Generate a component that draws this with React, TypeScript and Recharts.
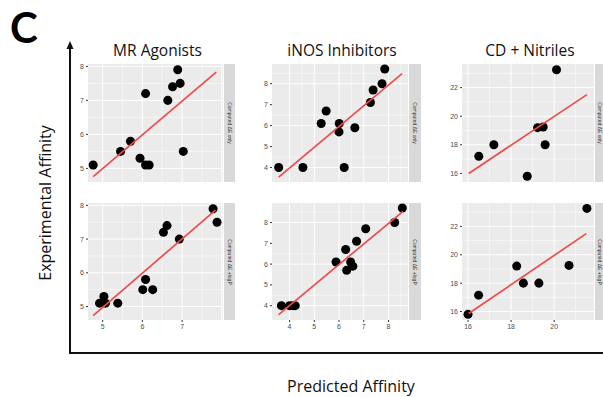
import { ScatterChart, Scatter, XAxis, YAxis, ZAxis, CartesianGrid } from "recharts";

type Pt = { x: number; y: number };

// MR Agonists
const mrTopPts: Pt[] = [
  { x: 4.76, y: 5.1 }, { x: 5.45, y: 5.5 }, { x: 5.7, y: 5.8 }, { x: 5.94, y: 5.3 },
  { x: 6.08, y: 5.1 }, { x: 6.17, y: 5.1 }, { x: 6.08, y: 7.2 }, { x: 6.64, y: 7.0 },
  { x: 6.76, y: 7.4 }, { x: 6.89, y: 7.9 }, { x: 6.95, y: 7.5 }, { x: 7.03, y: 5.5 },
];
const mrBotPts: Pt[] = [
  { x: 4.92, y: 5.1 }, { x: 5.03, y: 5.3 }, { x: 5.07, y: 5.1 }, { x: 5.38, y: 5.1 },
  { x: 6.01, y: 5.5 }, { x: 6.08, y: 5.8 }, { x: 6.26, y: 5.5 }, { x: 6.53, y: 7.2 },
  { x: 6.62, y: 7.4 }, { x: 6.93, y: 7.0 }, { x: 7.78, y: 7.9 }, { x: 7.88, y: 7.5 },
];
const mrTopLine: Pt[] = [{ x: 4.76, y: 4.76 }, { x: 7.86, y: 7.83 }];
const mrBotLine: Pt[] = [{ x: 4.76, y: 4.73 }, { x: 7.84, y: 7.86 }];

// iNOS Inhibitors
const inosTopPts: Pt[] = [
  { x: 3.56, y: 4.0 }, { x: 4.54, y: 4.0 }, { x: 5.28, y: 6.1 }, { x: 5.48, y: 6.7 },
  { x: 6.01, y: 6.1 }, { x: 6.0, y: 5.7 }, { x: 6.21, y: 4.0 }, { x: 6.64, y: 5.9 },
  { x: 7.27, y: 7.1 }, { x: 7.38, y: 7.7 }, { x: 7.74, y: 8.0 }, { x: 7.85, y: 8.7 },
];
const inosBotPts: Pt[] = [
  { x: 3.67, y: 4.0 }, { x: 4.0, y: 4.0 }, { x: 4.13, y: 4.0 }, { x: 4.23, y: 4.0 },
  { x: 5.88, y: 6.1 }, { x: 6.27, y: 6.7 }, { x: 6.31, y: 5.7 }, { x: 6.47, y: 6.1 },
  { x: 6.56, y: 5.9 }, { x: 6.71, y: 7.1 }, { x: 7.08, y: 7.7 }, { x: 8.25, y: 8.0 },
  { x: 8.56, y: 8.7 },
];
const inosTopLine: Pt[] = [{ x: 3.56, y: 3.54 }, { x: 8.55, y: 8.48 }];
const inosBotLine: Pt[] = [{ x: 3.56, y: 3.57 }, { x: 8.59, y: 8.54 }];

// CD + Nitriles
const cdTopPts: Pt[] = [
  { x: 16.5, y: 17.2 }, { x: 17.2, y: 18.0 }, { x: 18.75, y: 15.8 }, { x: 19.23, y: 19.2 },
  { x: 19.49, y: 19.25 }, { x: 19.58, y: 18.0 }, { x: 20.11, y: 23.25 },
];
const cdBotPts: Pt[] = [
  { x: 16.0, y: 15.8 }, { x: 16.49, y: 17.15 }, { x: 18.26, y: 19.2 }, { x: 18.57, y: 18.0 },
  { x: 19.29, y: 18.0 }, { x: 20.69, y: 19.25 }, { x: 21.52, y: 23.27 },
];
const cdTopLine: Pt[] = [{ x: 16.03, y: 16.0 }, { x: 21.52, y: 21.51 }];
const cdBotLine: Pt[] = [{ x: 16.03, y: 15.86 }, { x: 21.49, y: 21.49 }];

const titles = ["MR Agonists", "iNOS Inhibitors", "CD + Nitriles"];
const stripLabels = ["Computed ΔE only", "Computed ΔE +logP"];

const mrXTicks = [5, 6, 7];
const mrXMinor = [5.5, 6.5, 7.5];
const mrYTicks = [5, 6, 7, 8];
const mrYMinor = [5.5, 6.5, 7.5];
const inosXTicks = [4, 5, 6, 7, 8];
const inosXMinor = [3.5, 4.5, 5.5, 6.5, 7.5, 8.5];
const inosYTicks = [4, 5, 6, 7, 8];
const inosYMinor = [3.5, 4.5, 5.5, 6.5, 7.5, 8.5];
const cdXTicks = [16, 18, 20];
const cdXMinor = [17, 19, 21];
const cdYTicks = [16, 18, 20, 22];
const cdYMinor = [17, 19, 21, 23];

const FONT = "'Open Sans', Lato, sans-serif";
const TICK = { fill: "#4d4d4d", fontSize: 7, fontFamily: "Arial, 'Liberation Sans', sans-serif" };
const Y_AXIS_W = 18;
const TOP_PAD = 5;

interface PanelProps {
  left: number; top: number; w: number; h: number;
  xDomain: [number, number]; yDomain: [number, number];
  xTicks: number[]; xMinor: number[]; yTicks: number[]; yMinor: number[];
  pts: Pt[]; line: Pt[]; showX: boolean; strip: string; stripW: number;
}

function Panel(p: PanelProps) {
  const xh = p.showX ? 14 : 0;
  return (
    <>
      <div style={{ position: "absolute", left: p.left - Y_AXIS_W, top: p.top - TOP_PAD }}>
        <ScatterChart
          width={p.w + Y_AXIS_W}
          height={p.h + xh + TOP_PAD}
          margin={{ top: TOP_PAD, right: 0, bottom: 0, left: 0 }}
        >
          <CartesianGrid
            fill="#ebebeb" stroke="#ffffff" strokeWidth={0.5}
            verticalValues={p.xMinor} horizontalValues={p.yMinor}
          />
          <CartesianGrid
            stroke="#ffffff" strokeWidth={1}
            verticalValues={[...p.xTicks, ...p.xTicks.map((t) => t + (p.xTicks[1] - p.xTicks[0]))]}
            horizontalValues={p.yTicks}
          />
          <XAxis
            type="number" dataKey="x" domain={p.xDomain} ticks={p.xTicks}
            allowDataOverflow hide={!p.showX} height={xh}
            tick={TICK} tickSize={2} tickLine={{ stroke: "#333" }} axisLine={false}
          />
          <YAxis
            type="number" dataKey="y" domain={p.yDomain} ticks={p.yTicks}
            allowDataOverflow width={Y_AXIS_W}
            tick={TICK} tickSize={2} tickLine={{ stroke: "#333" }} axisLine={false}
          />
          <ZAxis range={[34, 34]} />
          <Scatter data={p.pts} fill="#000000" isAnimationActive={false} />
          <Scatter
            data={p.line} line={{ stroke: "#f24a4a", strokeWidth: 1.7 }}
            shape={() => <g />} isAnimationActive={false}
          />
        </ScatterChart>
      </div>
      <div
        style={{
          position: "absolute", left: p.left + p.w + 1, top: p.top, width: p.stripW, height: p.h,
          background: "#d9d9d9", overflow: "hidden",
        }}
      >
        <div
          style={{
            position: "absolute", left: "50%", top: "50%", whiteSpace: "nowrap",
            transform: "translate(-50%, -50%) rotate(90deg)",
            fontSize: 5, color: "#333", fontFamily: "Arial, sans-serif",
          }}
        >
          {p.strip}
        </div>
      </div>
    </>
  );
}

const COL_LEFT = [88, 272, 462];
const COL_W = [135, 136, 132];
const STRIP_W = [11, 12, 9];
const ROW_TOP = [64, 203];
const ROW_H = [118, 117];

export default function App() {
  const cols = [
    { xd: [4.63, 8.03] as [number, number], yd: [4.6, 8.07] as [number, number], xt: mrXTicks, xm: mrXMinor, yt: mrYTicks, ym: mrYMinor, pts: [mrTopPts, mrBotPts], lines: [mrTopLine, mrBotLine] },
    { xd: [3.29, 8.79] as [number, number], yd: [3.31, 8.94] as [number, number], xt: inosXTicks, xm: inosXMinor, yt: inosYTicks, ym: inosYMinor, pts: [inosTopPts, inosBotPts], lines: [inosTopLine, inosBotLine] },
    { xd: [15.72, 21.85] as [number, number], yd: [15.4, 23.65] as [number, number], xt: cdXTicks, xm: cdXMinor, yt: cdYTicks, ym: cdYMinor, pts: [cdTopPts, cdBotPts], lines: [cdTopLine, cdBotLine] },
  ];
  return (
    <div style={{ position: "absolute", left: 0, top: 0, width: 603, height: 397, background: "#fff", overflow: "hidden", fontFamily: FONT }}>
      <div style={{ position: "absolute", left: 10, top: 2, fontSize: 42, fontWeight: 700, color: "#000", lineHeight: "50px", fontFamily: "Lato, sans-serif" }}>C</div>
      {titles.map((t, i) => (
        <div key={t} style={{ position: "absolute", left: COL_LEFT[i] + COL_W[i] / 2 + 2 - 80, width: 160, top: 39, textAlign: "center", fontSize: 15.5, color: "#111", lineHeight: "22px" }}>
          {t}
        </div>
      ))}
      {cols.map((c, ci) =>
        [0, 1].map((ri) => (
          <Panel
            key={`${ci}-${ri}`}
            left={COL_LEFT[ci]} top={ROW_TOP[ri]} w={COL_W[ci]} h={ROW_H[ri]}
            xDomain={c.xd} yDomain={c.yd}
            xTicks={c.xt} xMinor={c.xm} yTicks={c.yt} yMinor={c.ym}
            pts={c.pts[ri]} line={c.lines[ri]} showX={ri === 1}
            strip={stripLabels[ri]} stripW={STRIP_W[ci]}
          />
        ))
      )}
      <svg width={603} height={397} style={{ position: "absolute", left: 0, top: 0, pointerEvents: "none" }}>
        <line x1={70} y1={46} x2={70} y2={354} stroke="#111" strokeWidth={2} />
        <path d="M66.5,49 L70,41 L73.5,49 Z" fill="#111" />
        <line x1={69} y1={353} x2={603} y2={353} stroke="#111" strokeWidth={2} />
      </svg>
      <div style={{ position: "absolute", left: 251, width: 200, top: 375, textAlign: "center", fontSize: 16, color: "#111", lineHeight: "22px" }}>
        Predicted Affinity
      </div>
      <div style={{ position: "absolute", left: 45, top: 203, whiteSpace: "nowrap", transform: "translate(-50%, -50%) rotate(-90deg)", fontSize: 16, color: "#111", lineHeight: "22px" }}>
        Experimental Affinity
      </div>
    </div>
  );
}
